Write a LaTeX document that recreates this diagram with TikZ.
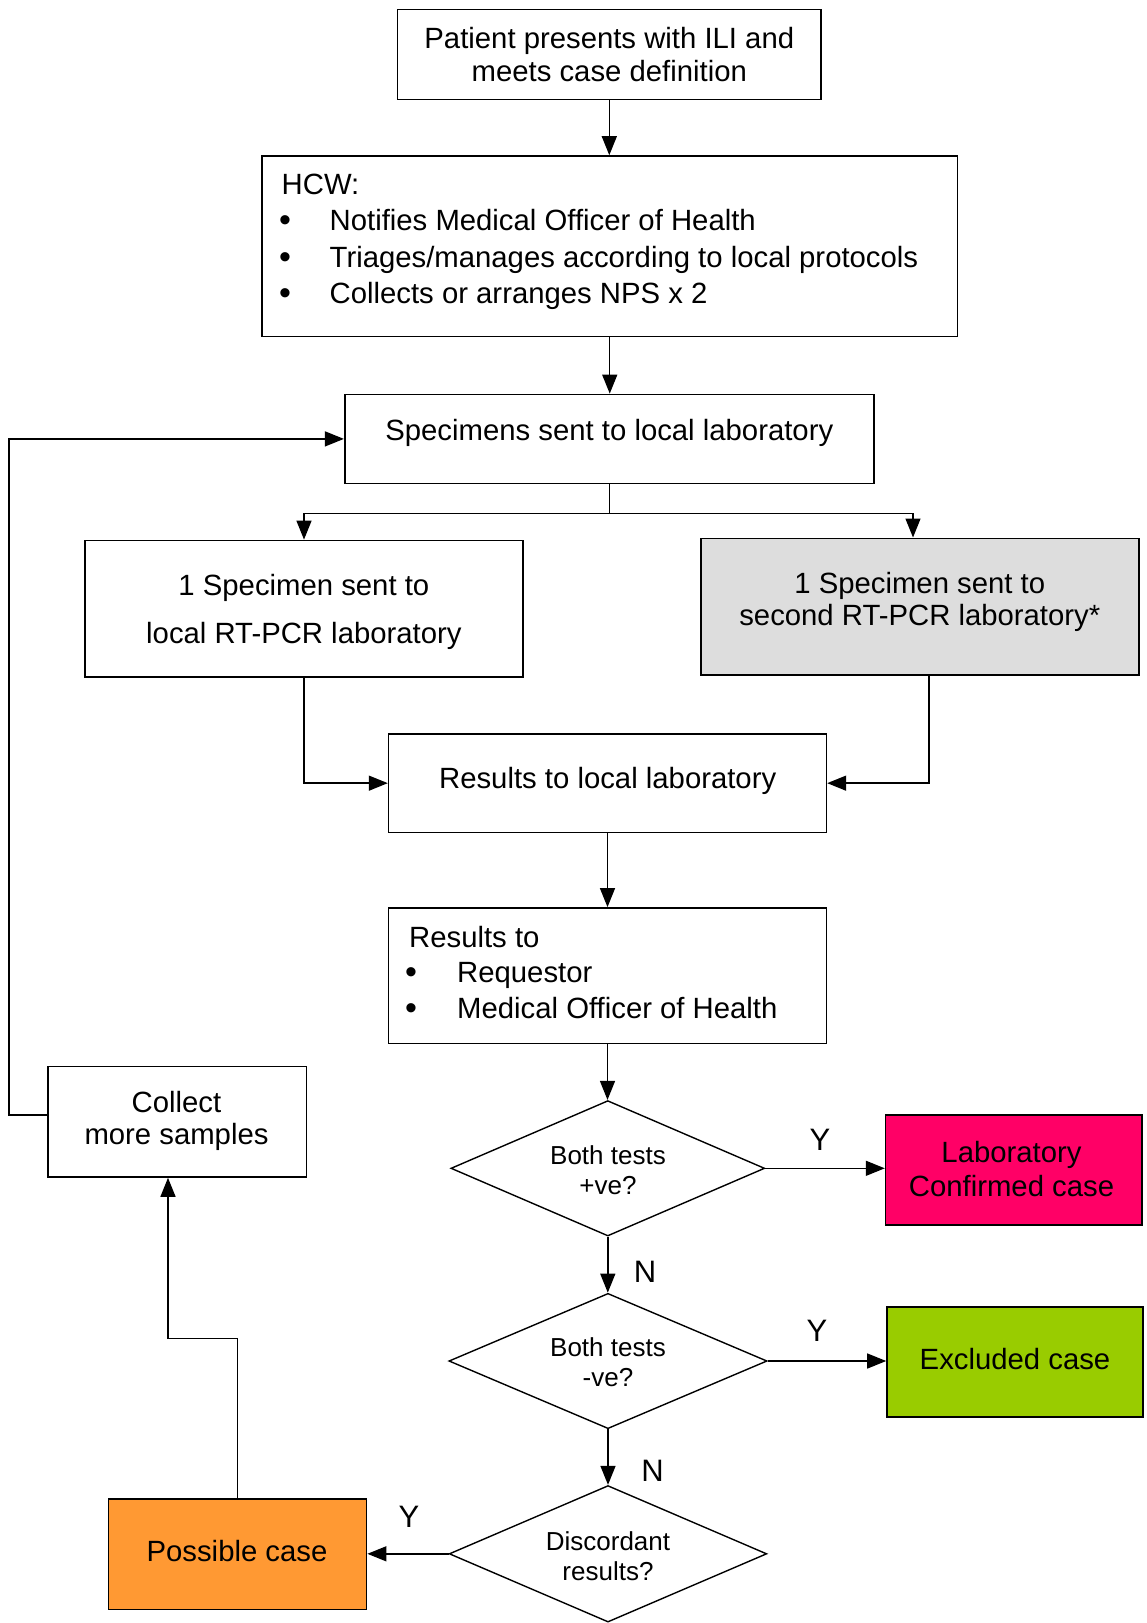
\documentclass[tikz,border=0pt]{standalone}
\usepackage{fontspec}
\setmainfont{Liberation Sans}
\usetikzlibrary{shapes.geometric,arrows.meta}
\definecolor{grayfill}{HTML}{DDDDDD}
\definecolor{labred}{HTML}{FF0066}
\definecolor{exgreen}{HTML}{99CC00}
\definecolor{posorange}{HTML}{FF9933}
\begin{document}
\begin{tikzpicture}[x=1pt,y=-1pt,
  box/.style={draw, line width=1.6pt, rectangle, inner sep=0pt},
  dia/.style={draw, line width=1.4pt, diamond, inner sep=0pt},
  conn/.style={line width=1.4pt, -{Triangle[length=19pt,width=15pt]}},
  plain/.style={line width=1.4pt},
  txt/.style={anchor=base, inner sep=0pt, font=\fontsize{29.3}{34}\selectfont},
  txtl/.style={anchor=base west, inner sep=0pt, font=\fontsize{29.3}{34}\selectfont},
  bul/.style={anchor=base west, inner sep=0pt, font=\fontsize{34}{34}\selectfont},
  dtxt/.style={anchor=base, inner sep=0pt, font=\fontsize{26}{30}\selectfont},
  yn/.style={anchor=base, inner sep=0pt, font=\fontsize{31}{34}\selectfont}]
\useasboundingbox (0,0) rectangle (1147,1623);
\fill[white] (0,0) rectangle (1147,1623);

% boxes
\node[box, minimum width=423.5pt, minimum height=90pt] (b1) at (609.3,54.4) {};
\node[box, minimum width=695.5pt, minimum height=180.4pt] (hcw) at (609.75,246.2) {};
\node[box, minimum width=529pt, minimum height=89pt] (spec) at (609.2,438.9) {};
\node[box, minimum width=437.9pt, minimum height=136.6pt] (loc) at (303.9,608.7) {};
\node[box, fill=grayfill, minimum width=437.9pt, minimum height=136.7pt] (sec) at (919.75,606.65) {};
\node[box, minimum width=437.8pt, minimum height=98.3pt] (res) at (607.5,783.15) {};
\node[box, minimum width=438pt, minimum height=135.6pt] (rto) at (607.5,975.7) {};
\node[dia, minimum width=313.8pt, minimum height=135.4pt] (d1) at (607.8,1168.3) {};
\node[box, fill=labred, minimum width=256.6pt, minimum height=110.3pt] (lab) at (1013.9,1170) {};
\node[dia, minimum width=318.2pt, minimum height=135.3pt] (d2) at (608,1361) {};
\node[box, fill=exgreen, minimum width=256pt, minimum height=110.3pt] (exc) at (1015,1362.1) {};
\node[dia, minimum width=317.6pt, minimum height=136.5pt] (d3) at (608,1553.8) {};
\node[box, fill=posorange, minimum width=258.1pt, minimum height=110.6pt] (pos) at (237.55,1554.1) {};
\node[box, minimum width=258.8pt, minimum height=110.5pt] (col) at (177.1,1121.75) {};

% texts
\node[txt] (t1a) at (609.3,48.2) {Patient presents with ILI and};
\node[txt] (t1b) at (609.3,81) {meets case definition};

\node[txtl] (h0) at (281.5,194.6) {HCW:};
\node[bul] (hb1) at (279,231) {•};
\node[bul] (hb2) at (279,268) {•};
\node[bul] (hb3) at (279,304) {•};
\node[txtl] (h1) at (329.5,230) {Notifies Medical Officer of Health};
\node[txtl] (h2) at (329.5,267) {Triages/manages according to local protocols};
\node[txtl] (h3) at (329.5,303) {Collects or arranges NPS x 2};

\node[txt] (ts) at (609.3,440) {Specimens sent to local laboratory};
\node[txt] (tl1) at (303.9,595) {1 Specimen sent to};
\node[txt] (tl2) at (303.9,643) {local RT-PCR laboratory};
\node[txt] (tsc1) at (919.8,593) {1 Specimen sent to};
\node[txt] (tsc2) at (919.8,625.4) {second RT-PCR laboratory*};
\node[txt] (tr) at (607.7,788) {Results to local laboratory};

\node[txtl] (r0) at (409,947) {Results to};
\node[bul] (rb1) at (405,983.5) {•};
\node[bul] (rb2) at (405,1019) {•};
\node[txtl] (r1) at (457,982.5) {Requestor};
\node[txtl] (r2) at (457,1018) {Medical Officer of Health};

\node[dtxt] (d1a) at (608,1164) {Both tests};
\node[dtxt] (d1b) at (608,1194.6) {+ve?};
\node[txt] (la) at (1011.5,1162) {Laboratory};
\node[txt] (lb) at (1011.5,1196) {Confirmed case};
\node[dtxt] (d2a) at (608,1356) {Both tests};
\node[dtxt] (d2b) at (608,1386.7) {-ve?};
\node[txt] (ex) at (1015,1369) {Excluded case};
\node[dtxt] (d3a) at (608,1550) {Discordant};
\node[dtxt] (d3b) at (608,1580.6) {results?};
\node[txt] (pc) at (237,1561) {Possible case};
\node[txt] (c1) at (176.5,1112) {Collect};
\node[txt] (c2) at (176.5,1144.4) {more samples};

% Y/N labels
\node[yn] (y1) at (820,1150) {Y};
\node[yn] (n1) at (645,1282.6) {N};
\node[yn] (y2) at (817,1341) {Y};
\node[yn] (n2) at (652.5,1481) {N};
\node[yn] (y3) at (409,1527) {Y};

% connectors
\draw[conn] (b1.south) -- (b1.south |- hcw.north);
\draw[conn] (hcw.south) -- (hcw.south |- spec.north);
\coordinate (sl) at (304,513.5);
\coordinate (sr) at (913,513.5);
\draw[plain] (spec.south) -- (spec.south |- sl);
\draw[conn] (spec.south |- sl) -- (sl) -- (sl |- loc.north);
\draw[conn] (spec.south |- sl) -- (sr) -- (sr |- sec.north);
\draw[conn] (loc.south) |- (res.west);
\coordinate (secx) at (929,0);
\draw[conn] (sec.south -| secx) |- (res.east);
\draw[conn] (res.south) -- (res.south |- rto.north);
\draw[conn] (rto.south) -- (rto.south |- d1.north);
\draw[conn] (d1.east) -- (d1.east -| lab.west);
\draw[conn] (d1.south) -- (d1.south |- d2.north);
\draw[conn] (d2.east) -- (d2.east -| exc.west);
\draw[conn] (d2.south) -- (d2.south |- d3.north);
\draw[conn] (d3.west) -- (d3.west -| pos.east);
\coordinate (jog) at (168,1338.6);
\draw[conn] (pos.north) |- (jog) -- (jog |- col.south);
\coordinate (cl) at (9,1115);
\draw[conn] (col.west |- cl) -- (cl) |- (spec.west);
\end{tikzpicture}
\end{document}
